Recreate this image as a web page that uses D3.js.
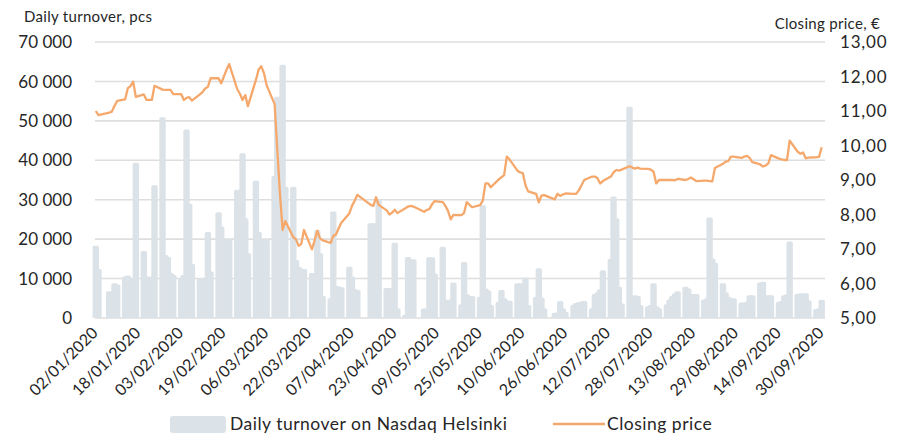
<!DOCTYPE html>
<html>
<head>
<meta charset="utf-8">
<script src="https://cdn.jsdelivr.net/npm/d3@7"></script>
<style>
    body { margin: 0; background: #fff; }
    text { font-family: Lato, "Open Sans", sans-serif; fill: #262626; }
</style>
</head>
<body>
<svg id="chart" width="906" height="434"></svg>
<script>
    // Trading calendar (Nasdaq Helsinki, weekdays minus exchange holidays)
    var firstDay = "2020-01-02";
    var lastDay = "2020-09-30";
    var holidays = ["2020-01-06", "2020-04-10", "2020-04-13", "2020-05-01", "2020-05-21", "2020-06-19"];

    // Daily turnover, pcs (one value per trading day, grouped by week)
    var turnover = [
        18300, 12400,
        6800, 6500, 8800, 8500,
        10500, 10800, 9800, 10200, 39400,
        17000, 10500, 10000, 10500, 33700,
        50900, 16000, 15500, 11500, 11000,
        10000, 11000, 47800, 29000, 13700,
        10000, 10000, 8500, 21800, 11800,
        26800, 23200, 20000, 20000, 20000,
        32500, 30000, 41800, 25300, 16400,
        34800, 21900, 16000, 20000, 20000,
        36000, 56100, 52000, 64200, 33300,
        33300, 14700, 13000, 12500, 12400,
        11400, 11000, 22300, 16400, 5600,
        5000, 27000, 8100, 8000, 7800,
        13000, 10500, 7300, 7100,
        24000, 24000, 20000, 29900,
        7600, 7600, 7000, 19100, 2500,
        800, 15500, 14900, 14900,
        2400, 2400, 15400, 15400, 11300,
        18100, 4400, 4600, 4600, 9000,
        3500, 14200, 6000, 5600,
        5400, 28600, 7500, 7000, 3300,
        4100, 7100, 5000, 4400, 4400,
        8800, 8800, 3300, 10300, 3300,
        5300, 12600, 5200, 2500,
        1300, 1400, 4300, 2500, 1500,
        3300, 3800, 4000, 4200, 4300,
        2500, 6100, 6500, 7300, 12100,
        15000, 30800, 25300, 7900, 3700,
        53600, 5000, 5800, 5600, 3300,
        3000, 3300, 8800, 3000, 2500,
        3500, 4700, 5600, 6200, 6800,
        7900, 7500, 4600, 6100, 6100,
        4700, 5000, 25500, 15100, 14000,
        8800, 6500, 5400, 5000, 5000,
        3900, 3900, 4100, 5800, 5800,
        9000, 9200, 5000, 5800, 5800,
        4100, 4300, 5800, 6000, 19400,
        6100, 6200, 6200, 6300, 4500,
        2300, 2500, 4600
    ];

    // Closing price, EUR
    var closingPrice = [
        11.00, 10.88,
        10.95, 10.98, 11.15, 11.29,
        11.34, 11.66, 11.72, 11.85, 11.41,
        11.48, 11.32, 11.32, 11.32, 11.73,
        11.62, 11.61, 11.61, 11.61, 11.49,
        11.49, 11.32, 11.38, 11.40, 11.30,
        11.48, 11.55, 11.65, 11.70, 11.95,
        11.95, 11.80, 12.00, 12.20, 12.36,
        11.63, 11.50, 11.32, 11.46, 11.14,
        11.90, 12.20, 12.30, 12.10, 11.75,
        11.20, 9.90, 8.60, 7.55, 7.81,
        7.34, 7.28, 7.09, 7.15, 7.55,
        6.99, 7.25, 7.53, 7.31, 7.25,
        7.18, 7.38, 7.42, 7.60, 7.76,
        8.03, 8.25, 8.40, 8.57,
        8.28, 8.25, 8.50, 8.28,
        8.12, 8.00, 8.05, 8.14, 8.04,
        8.18, 8.23, 8.25, 8.23,
        8.08, 8.13, 8.16, 8.30, 8.39,
        8.36, 8.25, 8.10, 7.86, 7.99,
        7.98, 8.05, 8.36, 8.21,
        8.27, 8.40, 8.90, 8.90, 8.79,
        9.02, 9.08, 9.14, 9.68, 9.60,
        9.27, 9.22, 9.20, 8.85, 8.67,
        8.60, 8.35, 8.55, 8.56,
        8.44, 8.60, 8.54, 8.58, 8.61,
        8.60, 8.60, 8.70, 8.85, 9.00,
        9.10, 9.10, 9.05, 8.90, 8.97,
        9.10, 9.22, 9.29, 9.27, 9.30,
        9.40, 9.36, 9.33, 9.36, 9.33,
        9.32, 9.30, 9.24, 8.90, 9.00,
        9.00, 9.00, 9.00, 8.99, 9.03,
        9.00, 9.03, 9.07, 9.02, 8.97,
        8.98, 8.98, 8.97, 8.96, 9.35,
        9.47, 9.53, 9.55, 9.68, 9.68,
        9.64, 9.68, 9.70, 9.64, 9.52,
        9.45, 9.39, 9.42, 9.48, 9.72,
        9.62, 9.60, 9.58, 9.58, 10.14,
        9.82, 9.76, 9.80, 9.63, 9.65,
        9.66, 9.67, 9.95
    ];

    var xTickLabels = ["02/01/2020", "18/01/2020", "03/02/2020", "19/02/2020", "06/03/2020", "22/03/2020",
        "07/04/2020", "23/04/2020", "09/05/2020", "25/05/2020", "10/06/2020", "26/06/2020",
        "12/07/2020", "28/07/2020", "13/08/2020", "29/08/2020", "14/09/2020", "30/09/2020"];
    var turnoverTicks = [0, 10000, 20000, 30000, 40000, 50000, 60000, 70000];
    var priceTicks = [5, 6, 7, 8, 9, 10, 11, 12, 13];
    var legendLabels = ["Daily turnover on Nasdaq Helsinki", "Closing price"];

    var barColor = "#dce3e8";
    var lineColor = "#f5a86c";

    var parseIso = d3.timeParse("%Y-%m-%d");
    var parseTick = d3.timeParse("%d/%m/%Y");
    var closedDays = holidays.map(function(d) { return +parseIso(d); });
    var start = parseIso(firstDay), end = parseIso(lastDay);
    var tradingDays = d3.timeDays(start, d3.timeDay.offset(end, 1)).filter(function(d) {
        var wd = d.getDay();
        return wd !== 0 && wd !== 6 && closedDays.indexOf(+d) < 0;
    });

    var data = tradingDays.map(function(d, i) {
        return { date: d, volume: turnover[i], price: closingPrice[i] };
    });

    var fi = d3.formatLocale({ decimal: ",", thousands: " ", grouping: [3], currency: ["", " €"] });
    var fmtVolume = fi.format(",d");
    var fmtPrice = fi.format(".2f");

    var plot = { left: 95.8, right: 821.7, top: 42, bottom: 318, gridLeft: 95, gridRight: 825 };

    var x = d3.scaleTime().domain([start, end]).range([plot.left, plot.right]);
    var yVol = d3.scaleLinear().domain([0, 70000]).range([plot.bottom, plot.top]);
    var yPrice = d3.scaleLinear().domain([5, 13]).range([plot.bottom, plot.top]);

    var svg = d3.select("#chart");

    // Gridlines
    svg.append("g")
        .selectAll("line")
        .data(turnoverTicks)
        .enter()
        .append("line")
        .attr("x1", plot.gridLeft).attr("x2", plot.gridRight)
        .attr("y1", function(d) { return yVol(d); })
        .attr("y2", function(d) { return yVol(d); })
        .attr("stroke", "#dedede")
        .attr("stroke-width", 1.6);

    // Bars (wide enough to overlap within a week, like the original)
    var barW = 6.4, r = 1.6;
    var barPath = function(d) {
        var cx = x(d.date), x0 = cx - barW / 2, x1 = cx + barW / 2;
        var yt = yVol(d.volume), yb = yVol(0);
        var rr = Math.min(r, (yb - yt) / 2);
        return "M" + x0 + "," + yb + "V" + (yt + rr) +
            "Q" + x0 + "," + yt + " " + (x0 + rr) + "," + yt +
            "H" + (x1 - rr) +
            "Q" + x1 + "," + yt + " " + x1 + "," + (yt + rr) +
            "V" + yb + "Z";
    };
    svg.append("g")
        .selectAll("path")
        .data(data)
        .enter()
        .append("path")
        .attr("d", barPath)
        .attr("fill", barColor);

    // Closing price line
    var line = d3.line()
        .x(function(d) { return x(d.date); })
        .y(function(d) { return yPrice(d.price); });
    svg.append("path")
        .datum(data)
        .attr("fill", "none")
        .attr("stroke", lineColor)
        .attr("stroke-width", 2.3)
        .attr("stroke-linejoin", "round")
        .attr("d", line);

    // Left axis labels
    svg.append("g")
        .selectAll("text")
        .data(turnoverTicks)
        .enter()
        .append("text")
        .attr("x", 72)
        .attr("y", function(d) { return yVol(d); })
        .attr("dy", "0.36em")
        .attr("text-anchor", "end")
        .attr("font-size", "17px")
        .text(function(d) { return fmtVolume(d); });

    // Right axis labels
    svg.append("g")
        .selectAll("text")
        .data(priceTicks)
        .enter()
        .append("text")
        .attr("x", 840)
        .attr("y", function(d) { return yPrice(d); })
        .attr("dy", "0.36em")
        .attr("font-size", "17px")
        .attr("letter-spacing", "0.8px")
        .text(function(d) { return fmtPrice(d); });

    // Axis titles
    svg.append("text").attr("x", 24).attr("y", 22)
        .attr("font-size", "15px").attr("letter-spacing", "0.3px")
        .text("Daily turnover, pcs");
    svg.append("text").attr("x", 880).attr("y", 29).attr("text-anchor", "end")
        .attr("font-size", "15px").attr("letter-spacing", "0.3px")
        .text("Closing price, €");

    // X tick labels, rotated
    svg.append("g")
        .selectAll("text")
        .data(xTickLabels)
        .enter()
        .append("text")
        .attr("transform", function(d) { return "translate(" + (x(parseTick(d)) + 3) + ",334) rotate(-45)"; })
        .attr("text-anchor", "end")
        .attr("font-size", "16px")
        .text(function(d) { return d; });

    // Legend
    var legend = svg.append("g");
    legend.append("rect")
        .attr("x", 170).attr("y", 416).attr("width", 56).attr("height", 17).attr("rx", 3)
        .attr("fill", barColor);
    legend.append("text")
        .attr("x", 230).attr("y", 430).attr("font-size", "17.5px").attr("letter-spacing", "0.5px")
        .text(legendLabels[0]);
    legend.append("line")
        .attr("x1", 553).attr("x2", 605).attr("y1", 424).attr("y2", 424)
        .attr("stroke", lineColor).attr("stroke-width", 2.5);
    legend.append("text")
        .attr("x", 607).attr("y", 430).attr("font-size", "17.5px").attr("letter-spacing", "0.5px")
        .text(legendLabels[1]);
</script>
</body>
</html>
